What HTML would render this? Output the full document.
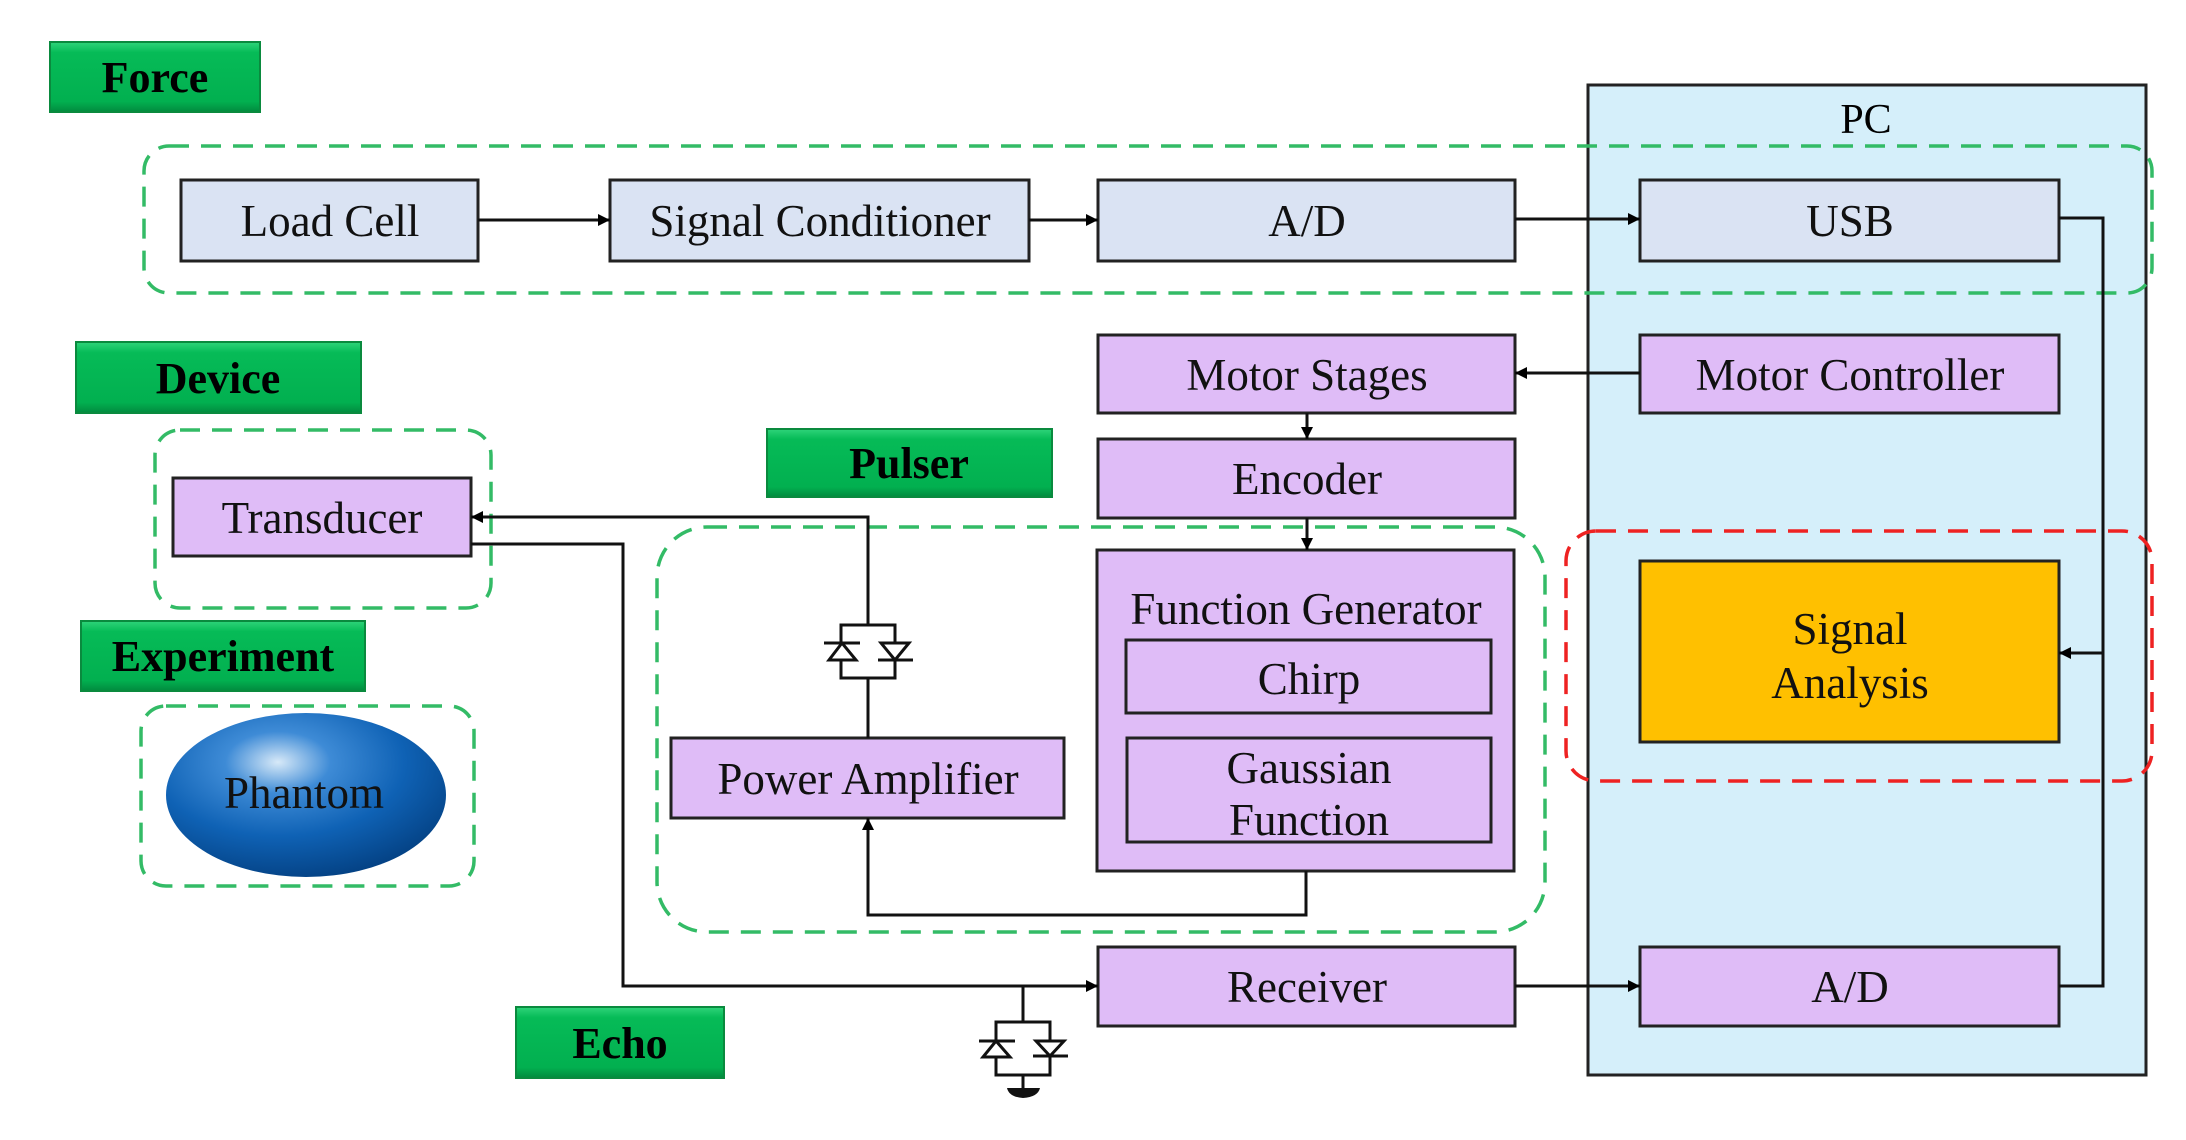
<!DOCTYPE html>
<html><head><meta charset="utf-8"><style>
html,body{margin:0;padding:0;background:#fff;}
svg{display:block;}
text{font-family:"Liberation Serif",serif;}
</style></head><body>
<svg width="2186" height="1140" viewBox="0 0 2186 1140" xmlns="http://www.w3.org/2000/svg">
<defs>
<linearGradient id="gr" x1="0" y1="0" x2="0" y2="1">
<stop offset="0" stop-color="#2fd47a"/><stop offset="0.15" stop-color="#06bb57"/><stop offset="0.85" stop-color="#02b050"/><stop offset="1" stop-color="#018a3e"/>
</linearGradient>
<radialGradient id="ball" cx="0.4" cy="0.3" r="0.75">
<stop offset="0" stop-color="#d7e9f8"/><stop offset="0.25" stop-color="#3e8bd6"/><stop offset="0.6" stop-color="#0f62b5"/><stop offset="1" stop-color="#033f80"/>
</radialGradient>
<marker id="ar" viewBox="0 0 10 10" refX="10" refY="5" markerWidth="12" markerHeight="12" markerUnits="userSpaceOnUse" orient="auto">
<path d="M0,0 L10,5 L0,10 z" fill="#000"/>
</marker>
</defs>

<!-- PC -->
<rect x="1588" y="85" width="558" height="990" fill="#d5effa" stroke="#222" stroke-width="3"/>
<text x="1866" y="133" font-size="42" text-anchor="middle">PC</text>

<!-- dashed groups -->
<g fill="none" stroke="#33bb66" stroke-width="3.5" stroke-dasharray="20,12">
<rect x="144" y="146" width="2008" height="147" rx="25"/>
<rect x="155" y="430" width="336" height="178" rx="25"/>
<rect x="141" y="706" width="333" height="180" rx="25"/>
<rect x="657" y="527" width="888" height="405" rx="50"/>
</g>
<rect x="1566" y="531" width="586" height="250" rx="30" fill="none" stroke="#ee2222" stroke-width="3.5" stroke-dasharray="20,12"/>

<!-- green labels -->
<g stroke="#0a8a3e" stroke-width="2">
<rect x="50" y="42" width="210" height="70" fill="url(#gr)"/>
<rect x="76" y="342" width="285" height="71" fill="url(#gr)"/>
<rect x="767" y="429" width="285" height="68" fill="url(#gr)"/>
<rect x="81" y="621" width="284" height="70" fill="url(#gr)"/>
<rect x="516" y="1007" width="208" height="71" fill="url(#gr)"/>
</g>
<g font-size="44" font-weight="bold" text-anchor="middle">
<text x="155" y="92">Force</text>
<text x="218" y="393">Device</text>
<text x="909" y="478">Pulser</text>
<text x="223" y="671">Experiment</text>
<text x="620" y="1058">Echo</text>
</g>

<!-- boxes -->
<g stroke="#222" stroke-width="3">
<rect x="181" y="180" width="297" height="81" fill="#dae3f3"/>
<rect x="610" y="180" width="419" height="81" fill="#dae3f3"/>
<rect x="1098" y="180" width="417" height="81" fill="#dae3f3"/>
<rect x="1640" y="180" width="419" height="81" fill="#dae3f3"/>
<rect x="1098" y="335" width="417" height="78" fill="#dfbcf7"/>
<rect x="1640" y="335" width="419" height="78" fill="#dfbcf7"/>
<rect x="1098" y="439" width="417" height="79" fill="#dfbcf7"/>
<rect x="173" y="478" width="298" height="78" fill="#dfbcf7"/>
<rect x="1097" y="550" width="417" height="321" fill="#dfbcf7"/>
<rect x="1126" y="640" width="365" height="73" fill="#dfbcf7"/>
<rect x="1127" y="738" width="364" height="104" fill="#dfbcf7"/>
<rect x="671" y="738" width="393" height="80" fill="#dfbcf7"/>
<rect x="1640" y="561" width="419" height="181" fill="#ffc000"/>
<rect x="1098" y="947" width="417" height="79" fill="#dfbcf7"/>
<rect x="1640" y="947" width="419" height="79" fill="#dfbcf7"/>
</g>
<ellipse cx="306" cy="795" rx="140" ry="82" fill="url(#ball)"/>

<g font-size="45" text-anchor="middle" fill="#111">
<text x="330" y="236">Load Cell</text>
<text x="820" y="236">Signal Conditioner</text>
<text x="1307" y="236">A/D</text>
<text x="1850" y="236">USB</text>
<text x="1307" y="390">Motor Stages</text>
<text x="1850" y="390">Motor Controller</text>
<text x="1307" y="494">Encoder</text>
<text x="322" y="533">Transducer</text>
<text x="1306" y="624">Function Generator</text>
<text x="1309" y="694">Chirp</text>
<text x="1309" y="783">Gaussian</text>
<text x="1309" y="835">Function</text>
<text x="868" y="794">Power Amplifier</text>
<text x="1850" y="644">Signal</text>
<text x="1850" y="698">Analysis</text>
<text x="304" y="808">Phantom</text>
<text x="1307" y="1002">Receiver</text>
<text x="1850" y="1002">A/D</text>
</g>

<!-- connectors -->
<g fill="none" stroke="#111" stroke-width="3">
<line x1="478" y1="220" x2="610" y2="220" marker-end="url(#ar)"/>
<line x1="1029" y1="220" x2="1098" y2="220" marker-end="url(#ar)"/>
<line x1="1515" y1="219" x2="1640" y2="219" marker-end="url(#ar)"/>
<polyline points="2059,218 2103,218 2103,986 2059,986"/>
<line x1="2103" y1="653" x2="2059" y2="653" marker-end="url(#ar)"/>
<line x1="1640" y1="373" x2="1515" y2="373" marker-end="url(#ar)"/>
<line x1="1307" y1="413" x2="1307" y2="439" marker-end="url(#ar)"/>
<line x1="1307" y1="518" x2="1307" y2="550" marker-end="url(#ar)"/>
<polyline points="868,625 868,517 471,517" marker-end="url(#ar)"/>
<line x1="868" y1="678" x2="868" y2="738"/>
<polyline points="1306,871 1306,915 868,915 868,818" marker-end="url(#ar)"/>
<polyline points="471,544 623,544 623,986 1098,986" marker-end="url(#ar)"/>
<line x1="1515" y1="986" x2="1640" y2="986" marker-end="url(#ar)"/>
<line x1="1023" y1="986" x2="1023" y2="1022"/>
<rect x="841" y="625" width="54" height="53"/>
<line x1="824" y1="643" x2="860" y2="643"/>
<path d="M829,660 L856,660 L842,643 Z" fill="#fff"/>
<line x1="878" y1="660" x2="913" y2="660"/>
<path d="M881,643 L909,643 L895,660 Z" fill="#fff"/>
<rect x="996" y="1022" width="54" height="53"/>
<line x1="979" y1="1041" x2="1015" y2="1041"/>
<path d="M983,1057 L1010,1057 L996,1041 Z" fill="#fff"/>
<line x1="1033" y1="1056" x2="1068" y2="1056"/>
<path d="M1036,1041 L1064,1041 L1050,1056 Z" fill="#fff"/>
<line x1="1023" y1="1075" x2="1023" y2="1088"/>
</g>
<path d="M1007,1088 L1040,1088 Q1038,1097 1023,1098 Q1009,1097 1007,1088 Z" fill="#111"/>
</svg>
</body></html>
